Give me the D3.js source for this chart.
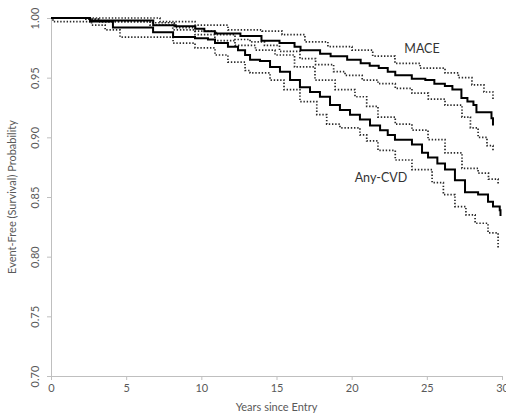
<!DOCTYPE html>
<html><head><meta charset="utf-8">
<script src="https://cdn.jsdelivr.net/npm/d3@7"></script>
<style>body{margin:0;background:#fff}svg{display:block}text{font-family:Lato,"Open Sans",sans-serif}</style>
</head><body><svg id="c" width="506" height="419"></svg>
<script>
const xTicks = [0,5,10,15,20,25,30];
const yTicks = [0.70,0.75,0.80,0.85,0.90,0.95,1.00];
const xTitle = "Years since Entry";
const yTitle = "Event-Free (Survival) Probability";

const maceTime = [0,2.6,6.8,8.3,9.6,10.2,10.9,12.6,14.0,15.2,16.2,16.6,17.9,18.6,19.7,20.6,21.2,21.8,22.4,22.9,24.0,24.9,25.5,26.2,26.7,27.3,27.7,28.1,28.3,29.3,29.4];
const maceSurv = [1.000,0.998,0.994,0.993,0.991,0.989,0.987,0.985,0.981,0.979,0.976,0.973,0.970,0.968,0.965,0.962,0.960,0.958,0.955,0.952,0.949,0.948,0.945,0.943,0.940,0.933,0.930,0.927,0.921,0.916,0.910];
const maceUpTime = [0,6.6,7.25,9.58,11.77,14.04,15.37,16.89,18.42,20.02,21.4,22.88,24.55,26.21,27.1,28.0,28.8,29.4];
const maceUpSurv = [1.000,1.000,0.997,0.994,0.990,0.989,0.986,0.980,0.976,0.973,0.968,0.962,0.958,0.954,0.950,0.944,0.938,0.931];
const maceLoTime = [0,2.26,3.26,6.59,8.2,9.58,11.0,12.24,13.24,14.2,15.2,16.56,17.6,18.8,19.56,20.7,21.75,22.9,24.01,25.1,26.21,27.34,27.9,28.41,29.0,29.4];
const maceLoSurv = [1.000,0.999,0.997,0.996,0.992,0.989,0.986,0.982,0.980,0.977,0.972,0.966,0.961,0.955,0.952,0.948,0.945,0.941,0.937,0.932,0.927,0.917,0.908,0.900,0.893,0.888];
const cvdTime = [0,2.59,4.12,6.79,8.12,9.58,10.44,10.91,11.77,12.44,12.91,13.24,13.9,14.57,15.23,15.9,16.56,17.23,17.89,18.56,19.22,19.89,20.55,21.22,21.89,22.4,22.88,24.01,24.68,25.08,25.7,26.21,26.87,27.54,28.41,29.07,29.40,29.85,29.9];
const cvdSurv = [1.000,0.997,0.992,0.988,0.984,0.983,0.982,0.979,0.976,0.973,0.969,0.965,0.964,0.959,0.955,0.948,0.942,0.938,0.934,0.927,0.923,0.919,0.915,0.910,0.906,0.902,0.898,0.894,0.887,0.883,0.878,0.873,0.864,0.854,0.852,0.846,0.842,0.839,0.834];
const cvdUpTime = [0,2.26,3.26,6.59,8.1,9.58,10.9,12.24,13.6,14.9,16.2,17.56,18.9,20.22,21.0,21.75,22.9,24.01,25.08,26.21,27.34,28.41,29.1,29.74];
const cvdUpSurv = [1.000,0.999,0.997,0.994,0.990,0.986,0.981,0.977,0.973,0.969,0.959,0.948,0.940,0.934,0.926,0.917,0.911,0.906,0.898,0.887,0.874,0.870,0.865,0.860];
const cvdLoTime = [0,0.13,2.7,3.6,4.59,7.72,8.12,9.58,10.91,11.77,12.91,13.24,14.57,15.5,16.56,17.68,18.34,19.22,20.55,21.0,21.75,22.9,24.01,25.35,26.1,26.87,27.6,28.21,29.07,29.74];
const cvdLoSurv = [1.000,0.997,0.994,0.990,0.984,0.984,0.979,0.975,0.969,0.963,0.956,0.954,0.948,0.940,0.930,0.919,0.911,0.908,0.902,0.897,0.889,0.881,0.873,0.862,0.852,0.842,0.835,0.828,0.820,0.807];

const series = [
  {t:maceUpTime, s:maceUpSurv, dotted:true},
  {t:maceLoTime, s:maceLoSurv, dotted:true},
  {t:cvdUpTime, s:cvdUpSurv, dotted:true},
  {t:cvdLoTime, s:cvdLoSurv, dotted:true},
  {t:maceTime, s:maceSurv, dotted:false},
  {t:cvdTime, s:cvdSurv, dotted:false}
];
const labels = [{text:"MACE", t:23.5, s:0.9705},{text:"Any-CVD", t:20.2, s:0.8625}];

const svg = d3.select("#c");
const L=51,R=502,T=18,B=376;
const x = d3.scaleLinear().domain([0,30]).range([L,R]);
const y = d3.scaleLinear().domain([0.70,1.00]).range([B,T]);
const grey="#bfbfbf", txt="#595959";

const xa = svg.append("g").attr("transform",`translate(0,${B})`)
  .call(d3.axisBottom(x).tickValues(xTicks).tickSize(4).tickFormat(d3.format("d")));
const ya = svg.append("g").attr("transform",`translate(${L},0)`)
  .call(d3.axisLeft(y).tickValues(yTicks).tickSize(4).tickFormat(d3.format(".2f")));
[xa,ya].forEach(g=>{
  g.selectAll("path.domain").attr("stroke",grey).attr("stroke-width",1);
  g.selectAll(".tick line").attr("stroke",grey);
  g.selectAll(".tick text").attr("fill",txt).style("font-size","11px").style("font-family","Lato, 'Open Sans', sans-serif");
});
xa.selectAll(".tick text").attr("y",8).attr("dy","0.71em");
ya.selectAll(".tick text").attr("x",null).attr("dy",null)
  .attr("text-anchor","middle")
  .attr("transform","translate(-12,0) rotate(-90)");

svg.append("text").attr("x",(L+R)/2).attr("y",411).attr("text-anchor","middle")
  .attr("fill",txt).style("font-size","11px").text(xTitle);
svg.append("text").attr("transform",`translate(16,${(T+B)/2}) rotate(-90)`).attr("text-anchor","middle")
  .attr("fill",txt).style("font-size","11px").text(yTitle);

const line = d3.line().x(d=>x(d[0])).y(d=>y(d[1])).curve(d3.curveStepAfter);
series.forEach(sr=>{
  const pts = sr.t.map((t,i)=>[t, sr.s[i]]);
  svg.append("path").attr("d",line(pts)).attr("fill","none")
    .attr("stroke", sr.dotted ? "#2a2a2a" : "#000")
    .attr("stroke-width", sr.dotted ? 1.7 : 2)
    .attr("stroke-dasharray", sr.dotted ? "1.4,1.8" : null);
});
labels.forEach(l=>{
  svg.append("text").attr("x",x(l.t)).attr("y",y(l.s)).attr("text-anchor","start")
    .attr("fill","#333").style("font-size","12.5px").text(l.text);
});
</script></body></html>
